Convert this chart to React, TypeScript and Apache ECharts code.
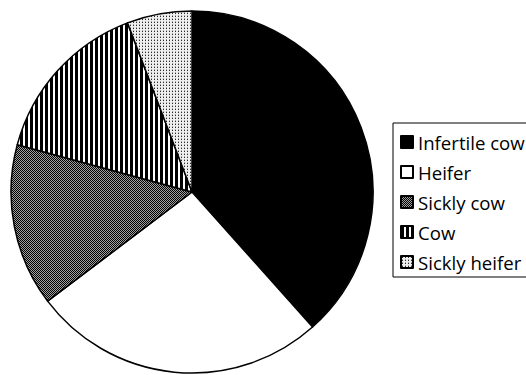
import React, { useEffect, useRef } from "react";
import * as echarts from "echarts";

const categories: string[] = ["Infertile cow", "Heifer", "Sickly cow", "Cow", "Sickly heifer"];
const values: number[] = [38.4, 26.3, 14.5, 15.0, 5.8];

function makeCanvas(w: number, h: number, draw: (ctx: CanvasRenderingContext2D) => void) {
  const c = document.createElement("canvas");
  c.width = w;
  c.height = h;
  const ctx = c.getContext("2d")!;
  draw(ctx);
  return c;
}

function px(ctx: CanvasRenderingContext2D, x: number, y: number, color: string) {
  ctx.fillStyle = color;
  ctx.fillRect(x, y, 1, 1);
}

export default function App() {
  const ref = useRef<HTMLDivElement>(null);
  useEffect(() => {
    if (!ref.current) return;
    const chart = echarts.init(ref.current, null, { renderer: "svg" });

    const sicklyCow = makeCanvas(2, 2, (ctx) => {
      px(ctx, 0, 0, "#000");
      px(ctx, 1, 1, "#000");
      px(ctx, 1, 0, "#a0a0a0");
      px(ctx, 0, 1, "#a0a0a0");
    });
    const cowStripes = makeCanvas(5, 4, (ctx) => {
      ctx.fillStyle = "#000";
      ctx.fillRect(0, 0, 5, 4);
      ctx.fillStyle = "#ffffff";
      ctx.fillRect(3, 0, 2, 4);
    });
    const sicklyHeifer = makeCanvas(3, 3, (ctx) => {
      ctx.fillStyle = "#eeeeee";
      ctx.fillRect(0, 0, 3, 3);
      px(ctx, 1, 1, "#2a2a2a");
      px(ctx, 1, 0, "#a8a8a8");
    });

    const fills: any[] = [
      "#000000",
      "#ffffff",
      { image: sicklyCow, repeat: "repeat" },
      { image: cowStripes, repeat: "repeat" },
      { image: sicklyHeifer, repeat: "repeat" },
    ];

    chart.setOption({
      animation: false,
      backgroundColor: "#ffffff",
      legend: {
        orient: "vertical",
        left: 393,
        top: 123,
        padding: [9, 30, 5, 7],
        itemWidth: 12,
        itemHeight: 12,
        itemGap: 10,
        icon: "rect",
        selectedMode: false,
        borderColor: "#000",
        borderWidth: 1,
        borderRadius: 0,
        textStyle: {
          fontFamily: "Open Sans",
          fontSize: 18.6,
          lineHeight: 20,
          color: "#000",
        },
        data: categories,
      },
      series: [
        {
          type: "pie",
          center: [192, 192],
          radius: 181,
          startAngle: 90,
          clockwise: true,
          label: { show: false },
          labelLine: { show: false },
          emphasis: { disabled: true },
          itemStyle: { borderColor: "#000", borderWidth: 1.5 },
          data: categories.map((name, i) => ({
            name,
            value: values[i],
            itemStyle: { color: fills[i] },
          })),
        },
      ],
    });
    return () => chart.dispose();
  }, []);
  return (
    <div
      ref={ref}
      style={{ position: "fixed", left: 0, top: 0, width: 640, height: 375 }}
    />
  );
}
